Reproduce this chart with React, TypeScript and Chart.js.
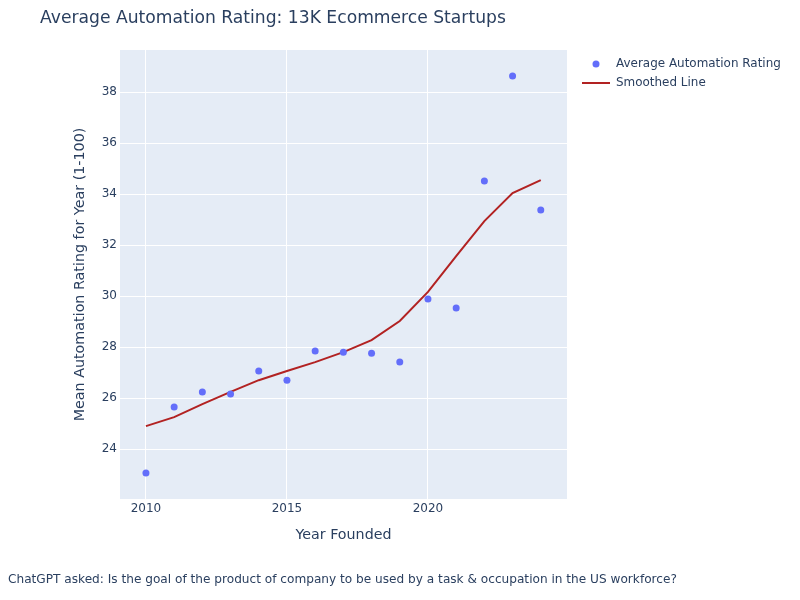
import React, { useEffect, useRef } from "react";
import { Chart, registerables } from "chart.js";

Chart.register(...registerables);

const years = [2010, 2011, 2012, 2013, 2014, 2015, 2016, 2017, 2018, 2019, 2020, 2021, 2022, 2023, 2024];
const avgRating = [23.06, 25.65, 26.24, 26.16, 27.06, 26.7, 27.84, 27.8, 27.76, 27.41, 29.88, 29.53, 34.51, 38.63, 33.37];
const smoothed = [24.9, 25.25, 25.76, 26.24, 26.7, 27.06, 27.41, 27.8, 28.27, 29.02, 30.16, 31.57, 32.94, 34.04, 34.55];
const xTicks = [2010, 2015, 2020];
const yTicks = [24, 26, 28, 30, 32, 34, 36, 38];

const FONT = "'DejaVu Sans', Verdana, sans-serif";
const TEXT = "#2a3f5f";

function fitFont(ctx: CanvasRenderingContext2D, text: string, target: number, base: number) {
  ctx.font = `${base}px ${FONT}`;
  const w = ctx.measureText(text).width;
  const size = Math.max(6, Math.min(base * 1.3, (base * target) / w));
  ctx.font = `${size.toFixed(2)}px ${FONT}`;
}

const decor = {
  id: "decor",
  beforeDraw(chart: any) {
    const { ctx, chartArea } = chart;
    ctx.save();
    ctx.fillStyle = "#ffffff";
    ctx.fillRect(0, 0, chart.width, chart.height);
    ctx.fillStyle = "#E5ECF6";
    ctx.fillRect(chartArea.left, chartArea.top, chartArea.right - chartArea.left, chartArea.bottom - chartArea.top);
    ctx.restore();
  },
  afterDraw(chart: any) {
    const { ctx, chartArea } = chart;
    ctx.save();
    ctx.fillStyle = TEXT;
    ctx.textBaseline = "middle";
    ctx.textAlign = "left";
    const title = "Average Automation Rating: 13K Ecommerce Startups";
    fitFont(ctx, title, 466, 17);
    ctx.fillText(title, 40, 19);
    // legend
    ctx.fillStyle = "#636efa";
    ctx.beginPath();
    ctx.arc(596, 64, 3.5, 0, Math.PI * 2);
    ctx.fill();
    ctx.strokeStyle = "#b22222";
    ctx.lineWidth = 2;
    ctx.beginPath();
    ctx.moveTo(582, 83);
    ctx.lineTo(610, 83);
    ctx.stroke();
    ctx.fillStyle = TEXT;
    fitFont(ctx, chart.data.datasets[0].label, 165, 12);
    ctx.fillText(chart.data.datasets[0].label, 616, 64);
    ctx.fillText(chart.data.datasets[1].label, 616, 83);
    // axis titles
    ctx.textAlign = "center";
    fitFont(ctx, "Year Founded", 96, 14);
    ctx.fillText("Year Founded", (chartArea.left + chartArea.right) / 2, 535);
    ctx.save();
    ctx.translate(80, (chartArea.top + chartArea.bottom) / 2);
    ctx.rotate(-Math.PI / 2);
    const yt = "Mean Automation Rating for Year (1-100)";
    fitFont(ctx, yt, 294, 14);
    ctx.fillText(yt, 0, 0);
    ctx.restore();
    // footnote
    ctx.textAlign = "left";
    const fn = "ChatGPT asked: Is the goal of the product of company to be used by a task & occupation in the US workforce?";
    fitFont(ctx, fn, 669, 12);
    ctx.fillText(fn, 8, 580);
    ctx.restore();
  },
};

export default function App() {
  const ref = useRef<HTMLCanvasElement>(null);
  useEffect(() => {
    document.body.style.margin = "0";
    const chart = new Chart(ref.current!, {
      type: "line",
      data: {
        datasets: [
          {
            label: "Average Automation Rating",
            data: years.map((x, i) => ({ x, y: avgRating[i] })),
            showLine: false,
            pointRadius: 3.5,
            pointBackgroundColor: "#636efa",
            pointBorderWidth: 0,
            borderColor: "#636efa",
            backgroundColor: "#636efa",
          },
          {
            label: "Smoothed Line",
            data: years.map((x, i) => ({ x, y: smoothed[i] })),
            borderColor: "#b22222",
            borderWidth: 2,
            pointRadius: 0,
            tension: 0,
            fill: false,
          },
        ],
      },
      options: {
        animation: false,
        responsive: false,
        layout: { padding: { left: 0, top: 50, right: 233, bottom: 51 } },
        plugins: { legend: { display: false }, title: { display: false }, tooltip: { enabled: false } },
        scales: {
          x: {
            type: "linear",
            min: 2009.08,
            max: 2024.93,
            afterBuildTicks: (s: any) => { s.ticks = xTicks.map((v) => ({ value: v })); },
            afterFit: (s: any) => { s.height = 50; },
            grid: { color: "#ffffff", lineWidth: 1, drawTicks: false },
            border: { display: false },
            ticks: { color: TEXT, font: { family: FONT, size: 12 }, padding: 3, maxRotation: 0, callback: (v: any) => String(v) },
          },
          y: {
            type: "linear",
            min: 22.04,
            max: 39.65,
            afterBuildTicks: (s: any) => { s.ticks = yTicks.map((v) => ({ value: v })); },
            afterFit: (s: any) => { s.width = 120; },
            grid: { color: "#ffffff", lineWidth: 1, drawTicks: false },
            border: { display: false },
            ticks: { color: TEXT, font: { family: FONT, size: 12 }, padding: 3, callback: (v: any) => String(v) },
          },
        },
      },
      plugins: [decor],
    });
    return () => chart.destroy();
  }, []);
  return (
    <div style={{ position: "absolute", left: 0, top: 0, width: 800, height: 600 }}>
      <canvas ref={ref} width={800} height={600} style={{ width: 800, height: 600 }} />
    </div>
  );
}
